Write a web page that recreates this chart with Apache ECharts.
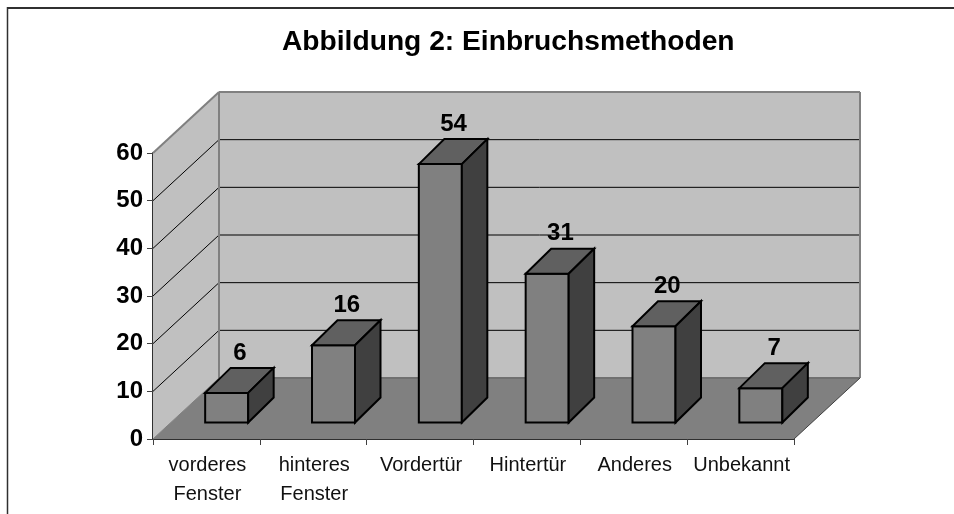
<!DOCTYPE html>
<html><head><meta charset="utf-8">
<style>html,body{margin:0;padding:0;background:#fff}#c{width:954px;height:514px}</style>
<script src="https://cdn.jsdelivr.net/npm/echarts@6/dist/echarts.min.js"></script>
</head><body><div id="c"></div>
<script>
const titleText = 'Abbildung 2: Einbruchsmethoden';
const categories = ['vorderes\nFenster','hinteres\nFenster','Vordertür','Hintertür','Anderes','Unbekannt'];
const values = [6,16,54,31,20,7];
const yTicks = [0,10,20,30,40,50,60];

const DX = 66, DY = -61;      // depth of the floor
const BDX = 25.5, BDY = -25;  // depth of a bar
const BAR_W = 43;
const FONT = '"Liberation Sans", Arial, sans-serif';

const chart = echarts.init(document.getElementById('c'), null, {renderer:'canvas'});

function poly(points, fill, stroke, lw){
  return {type:'polygon', shape:{points}, style:{fill, stroke: stroke||'none', lineWidth: lw||0}};
}
function seg(a,b,stroke,lw){
  return {type:'line', shape:{x1:a[0],y1:a[1],x2:b[0],y2:b[1]}, style:{stroke,lineWidth:lw||1}, silent:true};
}

function renderWalls(params, api){
  if (params.dataIndex !== 0) return {type:'group',children:[]};
  const cs = params.coordSys;
  const x0 = cs.x, x1 = cs.x + cs.width, yb = cs.y + cs.height, yt = cs.y;
  const kids = [];
  kids.push(poly([[x0,yb],[x0,yt],[x0+DX,yt+DY],[x0+DX,yb+DY]],'#c0c0c0'));
  kids.push(poly([[x0+DX,yb+DY],[x0+DX,yt+DY],[x1+DX,yt+DY],[x1+DX,yb+DY]],'#c0c0c0'));
  kids.push(poly([[x0,yb],[x0+DX,yb+DY],[x1+DX,yb+DY],[x1,yb]],'#808080'));
  yTicks.forEach(function(t){
    if (t===0 || t===60) return;
    const y = api.coord([0,t])[1];
    kids.push(seg([x0,y],[x0+DX,y+DY],'#000',1));
    kids.push(seg([x0+DX,y+DY],[x1+DX,y+DY],'#000',1));
  });
  kids.push(seg([x0,yt],[x0+DX,yt+DY],'#808080',2));
  kids.push(seg([x0+DX,yt+DY],[x1+DX,yt+DY],'#808080',2));
  kids.push(seg([x1+DX,yt+DY],[x1+DX,yb+DY],'#808080',2));
  kids.push(seg([x0+DX,yt+DY],[x0+DX,yb+DY],'#808080',2));
  kids.push(seg([x0+DX,yb+DY],[x1+DX,yb+DY],'#707070',2));
  kids.push(seg([x0,yb],[x0+DX,yb+DY],'#808080',1));
  kids.push(seg([x1,yb],[x1+DX,yb+DY],'#404040',1));
  return {type:'group',children:kids};
}

function renderBar(params, api){
  const i = api.value(0), v = api.value(1);
  const base = api.coord([i,0]);
  const top = api.coord([i,v]);
  const ox = (DX-BDX)/2, oy = (DY-BDY)/2;
  const l = base[0]-BAR_W/2+ox, r = l+BAR_W, b = base[1]+oy+1.5, t = top[1]+oy+0.5;
  const S='#000', W=2;
  const lx = r-BAR_W/2+BDX/2+0.5;
  return {type:'group',children:[
    poly([[l,b],[l,t],[r,t],[r,b]],'#808080',S,W),
    poly([[l,t],[l+BDX,t+BDY],[r+BDX,t+BDY],[r,t]],'#606060',S,W),
    poly([[r,t],[r+BDX,t+BDY],[r+BDX,b+BDY],[r,b]],'#404040',S,W),
    {type:'text',style:{text:String(v),x:lx,y:t+BDY-15,align:'center',verticalAlign:'middle',
      font:'bold 24px '+FONT,fill:'#000'}}
  ]};
}

chart.setOption({
  animation:false,
  backgroundColor:'#fff',
  title:{text:titleText,left:282,top:28,padding:0,
    textStyle:{fontFamily:FONT,fontWeight:'bold',fontSize:28.2,color:'#000'}},
  grid:{left:153,right:160,top:153,bottom:75,containLabel:false},
  xAxis:{type:'category',data:categories,boundaryGap:true,
    axisLine:{show:true,lineStyle:{color:'#303030',width:2}},
    axisTick:{show:true,alignWithLabel:false,length:6,lineStyle:{color:'#404040',width:1}},
    axisLabel:{interval:0,fontFamily:FONT,fontSize:20,color:'#111',margin:12,lineHeight:29,
      verticalAlign:'top',padding:[0,0,0,2]},
    splitLine:{show:false}},
  yAxis:{type:'value',min:0,max:60,interval:10,
    axisLine:{show:true,lineStyle:{color:'#303030',width:2}},
    axisTick:{show:true,length:6,lineStyle:{color:'#404040',width:1}},
    axisLabel:{fontFamily:FONT,fontWeight:'bold',fontSize:24,color:'#000',margin:10,padding:[0,0,3,0]},
    splitLine:{show:false}},
  series:[
    {type:'custom',coordinateSystem:'cartesian2d',data:values.map((v,i)=>[i,v]),renderItem:renderWalls,z:1,silent:true,clip:false},
    {type:'custom',coordinateSystem:'cartesian2d',data:values.map((v,i)=>[i,v]),renderItem:renderBar,z:3,silent:true,clip:false}
  ],
  graphic:[
    {type:'line',shape:{x1:7.5,y1:7,x2:7.5,y2:514},style:{stroke:'#303030',lineWidth:1.5},z:0},
    {type:'line',shape:{x1:7,y1:8,x2:954,y2:8},style:{stroke:'#303030',lineWidth:2},z:0}
  ]
});
</script></body></html>
